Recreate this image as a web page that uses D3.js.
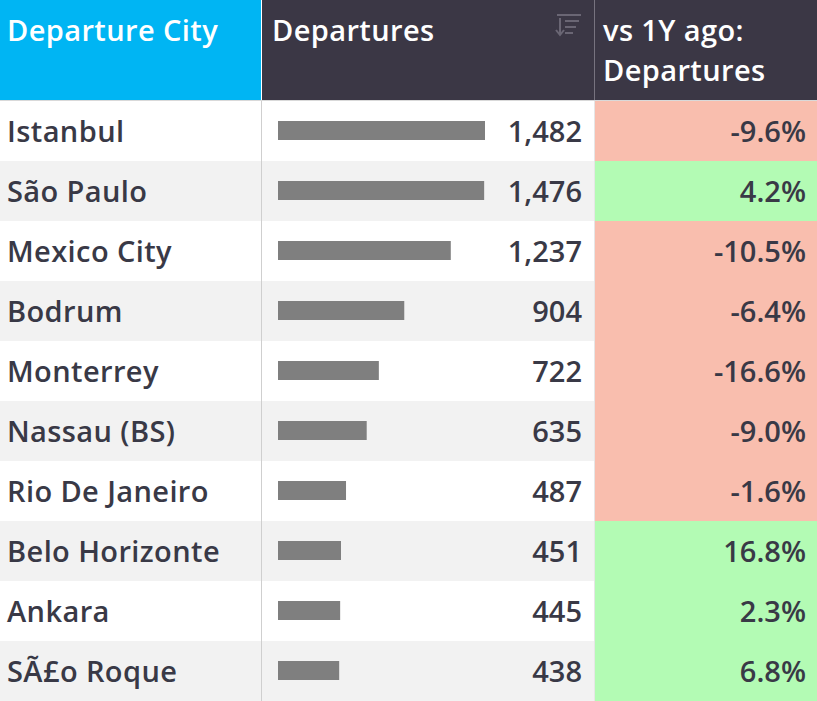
<!DOCTYPE html>
<html>
<head>
<meta charset="utf-8">
<script src="https://cdn.jsdelivr.net/npm/d3@7"></script>
<style>
  body { margin: 0; background: #fff; }
  svg { display: block; font-family: "Open Sans", sans-serif; }
</style>
</head>
<body>
<div id="chart"></div>
<script>
const cities = ['Istanbul', 'São Paulo', 'Mexico City', 'Bodrum', 'Monterrey', 'Nassau (BS)',
    'Rio De Janeiro', 'Belo Horizonte', 'Ankara', 'SÃ£o Roque'];
const departures = [1482, 1476, 1237, 904, 722, 635, 487, 451, 445, 438];
const change = [-9.6, 4.2, -10.5, -6.4, -16.6, -9.0, -1.6, 16.8, 2.3, 6.8];
const headers = ['Departure City', 'Departures', ['vs 1Y ago:', 'Departures']];

const W = 817, H = 701;
const HEADER_H = 100;
const COL1 = 261, COL2 = 594;

const svg = d3.select('#chart').append('svg').attr('width', W).attr('height', H);

const y = d3.scaleBand().domain(d3.range(cities.length)).range([HEADER_H + 1, H]);
const x = d3.scaleLinear().domain([0, d3.max(departures)]).range([0, 207]);
const fmt = d3.format(',');

// header
svg.append('rect').attr('width', COL1).attr('height', HEADER_H).attr('fill', '#00b5f3');
svg.append('rect').attr('x', COL1 + 1).attr('width', COL2 - COL1 - 1).attr('height', HEADER_H).attr('fill', '#3b3745');
svg.append('rect').attr('x', COL2 + 1).attr('width', W - COL2 - 1).attr('height', HEADER_H).attr('fill', '#3b3745');
svg.append('line').attr('x1', COL2 + 0.5).attr('x2', COL2 + 0.5).attr('y1', 0).attr('y2', HEADER_H)
    .attr('stroke', '#77737f');

const hText = svg.append('g').attr('fill', '#fff').attr('font-size', 29).attr('font-weight', 600)
    .attr('letter-spacing', 0.4);
hText.append('text').attr('x', 7).attr('y', 41).text(headers[0]);
hText.append('text').attr('x', 272).attr('y', 41).text(headers[1]);
hText.append('text').attr('x', 603).attr('y', 41).text(headers[2][0]);
hText.append('text').attr('x', 603).attr('y', 81).text(headers[2][1]);

// sort icon
const icon = svg.append('g').attr('stroke', '#6a6674').attr('stroke-width', 2);
icon.append('line').attr('x1', 557).attr('x2', 581).attr('y1', 15).attr('y2', 15);
icon.append('line').attr('x1', 565).attr('x2', 579).attr('y1', 21).attr('y2', 21);
icon.append('line').attr('x1', 565).attr('x2', 576).attr('y1', 27).attr('y2', 27);
icon.append('line').attr('x1', 565).attr('x2', 573).attr('y1', 33).attr('y2', 33);
icon.append('line').attr('x1', 560).attr('x2', 560).attr('y1', 18).attr('y2', 34);
icon.append('path').attr('d', 'M556,30 L560,35 L564,30').attr('fill', 'none');

// rows
const rows = svg.append('g').selectAll('g').data(cities).join('g')
    .attr('transform', (d, i) => `translate(0,${y(i)})`);

rows.append('rect').attr('width', COL2).attr('height', y.bandwidth())
    .attr('fill', (d, i) => i % 2 ? '#f2f2f2' : '#fff');

rows.append('rect').attr('x', COL2 + 1).attr('width', W - COL2 - 1).attr('height', y.bandwidth())
    .attr('fill', (d, i) => change[i] < 0 ? '#f9beae' : '#b3fbb4');

rows.append('rect').attr('x', 278).attr('y', y.bandwidth() / 2 - 10)
    .attr('width', (d, i) => x(departures[i])).attr('height', 19).attr('fill', '#7f7f7f');

const txt = rows.append('g').attr('fill', '#393946').attr('font-size', 29);
txt.append('text').attr('x', 7).attr('y', y.bandwidth() / 2 + 11).attr('font-weight', 600)
    .attr('letter-spacing', 0.4).text(d => d);
txt.append('text').attr('x', 582).attr('y', y.bandwidth() / 2 + 11).attr('text-anchor', 'end')
    .attr('font-weight', 600).text((d, i) => fmt(departures[i]));
txt.append('text').attr('x', 806).attr('y', y.bandwidth() / 2 + 11).attr('text-anchor', 'end')
    .attr('font-weight', 600).text((d, i) => change[i].toFixed(1) + '%');

// grid lines
svg.append('line').attr('x1', COL1 + 0.5).attr('x2', COL1 + 0.5).attr('y1', HEADER_H).attr('y2', H)
    .attr('stroke', '#cfcfcf');
svg.append('line').attr('x1', COL2 + 0.5).attr('x2', COL2 + 0.5).attr('y1', HEADER_H).attr('y2', H)
    .attr('stroke', '#e6e6e6');
svg.append('line').attr('x1', 0).attr('x2', W).attr('y1', HEADER_H + 0.5).attr('y2', HEADER_H + 0.5)
    .attr('stroke', '#d9d9d9');
</script>
</body>
</html>
